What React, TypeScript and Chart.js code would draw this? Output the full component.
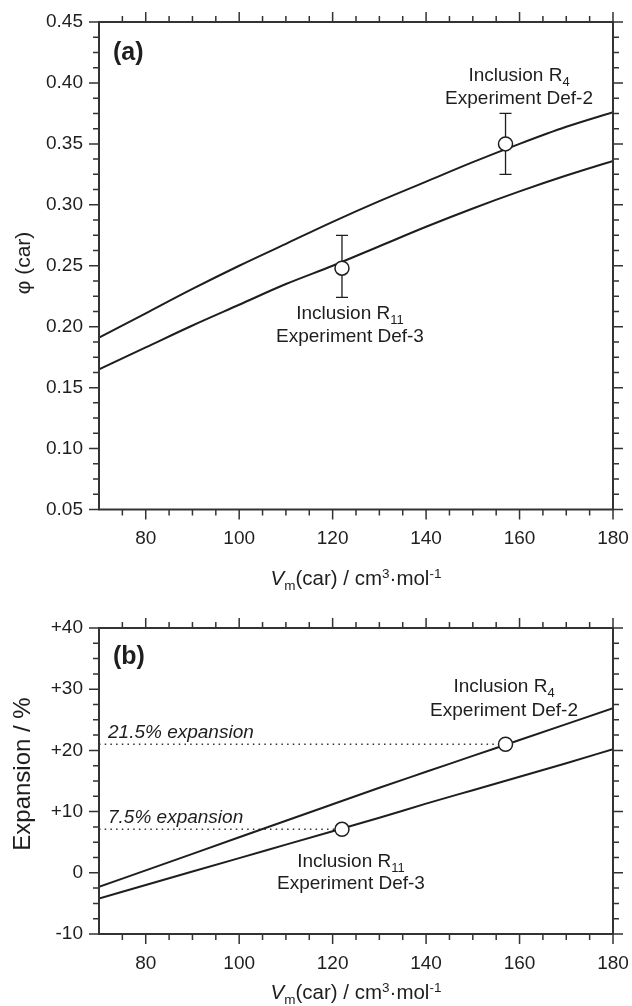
import React, { useEffect, useRef } from "react";
import { Chart, registerables } from "chart.js";

Chart.register(...registerables);

// ---------------- data ----------------
const V_CAR = [70, 80, 90, 100, 110, 120, 130, 140, 150, 160, 170, 180];
const PHI_UPPER = [0.191, 0.211, 0.231, 0.25, 0.268, 0.286, 0.303, 0.319, 0.335, 0.35, 0.364, 0.376];
const PHI_LOWER = [0.165, 0.183, 0.201, 0.218, 0.235, 0.25, 0.266, 0.282, 0.297, 0.311, 0.324, 0.336];
const EXP_UPPER = [-2.3, 0.4, 3.1, 5.8, 8.5, 11.2, 13.9, 16.5, 19.1, 21.7, 24.3, 26.9];
const EXP_LOWER = [-4.2, -2.0, 0.2, 2.4, 4.6, 6.8, 9.0, 11.3, 13.5, 15.7, 17.9, 20.2];

const INCL_NAME = ["Inclusion R", "Inclusion R"];
const INCL_SUB = ["4", "11"];
const INCL_EXPERIMENT = ["Experiment Def-2", "Experiment Def-3"];
const INCL_V = [157, 122];
const INCL_PHI = [0.35, 0.248];
const INCL_PHI_LOW = [0.325, 0.224];
const INCL_PHI_HIGH = [0.375, 0.275];
const INCL_EXP = [21.0, 7.1];
const EXP_LABELS = ["21.5% expansion", "7.5% expansion"];

const X_MIN = 70;
const X_MAX = 180;
const X_MAJOR = [80, 100, 120, 140, 160, 180];
const X_MINOR = [75, 85, 90, 95, 105, 110, 115, 125, 130, 135, 145, 150, 155, 165, 170, 175];
const PHI_MAJOR = [0.05, 0.1, 0.15, 0.2, 0.25, 0.3, 0.35, 0.4, 0.45];
const PHI_MINOR = [
  0.0625, 0.075, 0.0875, 0.1125, 0.125, 0.1375, 0.1625, 0.175, 0.1875, 0.2125, 0.225, 0.2375,
  0.2625, 0.275, 0.2875, 0.3125, 0.325, 0.3375, 0.3625, 0.375, 0.3875, 0.4125, 0.425, 0.4375,
];
const EXP_MAJOR = [-10, 0, 10, 20, 30, 40];
const EXP_MINOR = [-7.5, -5, -2.5, 2.5, 5, 7.5, 12.5, 15, 17.5, 22.5, 25, 27.5, 32.5, 35, 37.5];

// ---------------- style ----------------
const FONT = "'Liberation Sans', Arial, Helvetica, sans-serif";
const INK = "#1e1e1e";
const AXIS = "#333333";
const W = 632;

type Seg = { t: string; size: number; style?: string; weight?: string; dy?: number };

function fontStr(s: Seg) {
  return `${s.style || "normal"} ${s.weight || "normal"} ${s.size}px ${FONT}`;
}

function drawRich(ctx: CanvasRenderingContext2D, segs: Seg[], x: number, baseY: number, align: "center" | "left") {
  const widths = segs.map((s) => {
    ctx.font = fontStr(s);
    return ctx.measureText(s.t).width;
  });
  const total = widths.reduce((a, b) => a + b, 0);
  let cx = align === "center" ? x - total / 2 : x;
  ctx.textAlign = "left";
  ctx.textBaseline = "alphabetic";
  segs.forEach((s, i) => {
    ctx.font = fontStr(s);
    ctx.fillText(s.t, cx, baseY + (s.dy || 0));
    cx += widths[i];
  });
}

type Panel = {
  height: number;
  padTop: number;
  xAxisHeight: number;
  letter: string;
  letterBase: number;
  yMin: number;
  yMax: number;
  yMajor: number[];
  yMinor: number[];
  yFormat: (v: number) => string;
  upper: number[];
  lower: number[];
  pointY: number[];
  errLow?: number[];
  errHigh?: number[];
  dotted: boolean;
  yTitle: string;
  yTitleSize: number;
  yTitleX: number;
  yTitleY: number;
  xTitleBase: number;
  labelOffsets: { dx: number; dy1: number; dy2: number }[];
};

const PANEL_A: Panel = {
  height: 600,
  padTop: 22,
  xAxisHeight: 90.5,
  letter: "(a)",
  letterBase: 60,
  yMin: 0.05,
  yMax: 0.45,
  yMajor: PHI_MAJOR,
  yMinor: PHI_MINOR,
  yFormat: (v) => v.toFixed(2),
  upper: PHI_UPPER,
  lower: PHI_LOWER,
  pointY: INCL_PHI,
  errLow: INCL_PHI_LOW,
  errHigh: INCL_PHI_HIGH,
  dotted: false,
  yTitle: "φ (car)",
  yTitleSize: 21,
  yTitleX: 30,
  yTitleY: 263,
  xTitleBase: 585,
  labelOffsets: [
    { dx: 13.5, dy1: -62.4, dy2: -39.7 },
    { dx: 8, dy1: 51.3, dy2: 74.3 },
  ],
};

const PANEL_B: Panel = {
  height: 406,
  padTop: 28,
  xAxisHeight: 72,
  letter: "(b)",
  letterBase: 64,
  yMin: -10,
  yMax: 40,
  yMajor: EXP_MAJOR,
  yMinor: EXP_MINOR,
  yFormat: (v) => (v > 0 ? "+" + v : String(v)),
  upper: EXP_UPPER,
  lower: EXP_LOWER,
  pointY: INCL_EXP,
  dotted: true,
  yTitle: "Expansion / %",
  yTitleSize: 24,
  yTitleX: 30,
  yTitleY: 174,
  xTitleBase: 399,
  labelOffsets: [
    { dx: -1.5, dy1: -51.8, dy2: -28.5 },
    { dx: 9, dy1: 37.2, dy2: 59.2 },
  ],
};

function makeChart(canvas: HTMLCanvasElement, p: Panel) {
  const curve = (vals: number[]) => V_CAR.map((x, i) => ({ x, y: vals[i] }));
  const datasets: any[] = [
    {
      data: INCL_V.map((x, i) => ({ x, y: p.pointY[i] })),
      showLine: false,
      pointRadius: 7,
      pointBackgroundColor: "#ffffff",
      pointBorderColor: INK,
      pointBorderWidth: 1.5,
    },
    {
      data: curve(p.upper),
      showLine: true,
      borderColor: INK,
      borderWidth: 2,
      pointRadius: 0,
      cubicInterpolationMode: "monotone",
    },
    {
      data: curve(p.lower),
      showLine: true,
      borderColor: INK,
      borderWidth: 2,
      pointRadius: 0,
      cubicInterpolationMode: "monotone",
    },
  ];
  if (p.dotted) {
    INCL_V.forEach((v, i) => {
      datasets.push({
        data: [
          { x: X_MIN, y: p.pointY[i] },
          { x: v, y: p.pointY[i] },
        ],
        showLine: true,
        borderColor: AXIS,
        borderWidth: 1.5,
        borderDash: [1.5, 4.2],
        pointRadius: 0,
      });
    });
  }

  const errorBars = {
    id: "errorBars",
    beforeDatasetsDraw(chart: any) {
      if (!p.errLow || !p.errHigh) return;
      const { ctx, scales } = chart;
      ctx.save();
      ctx.strokeStyle = INK;
      ctx.lineWidth = 1.3;
      INCL_V.forEach((v, i) => {
        const px = scales.x.getPixelForValue(v);
        const lo = scales.y.getPixelForValue(p.errLow![i]);
        const hi = scales.y.getPixelForValue(p.errHigh![i]);
        ctx.beginPath();
        ctx.moveTo(px, lo);
        ctx.lineTo(px, hi);
        ctx.moveTo(px - 6, lo);
        ctx.lineTo(px + 6, lo);
        ctx.moveTo(px - 6, hi);
        ctx.lineTo(px + 6, hi);
        ctx.stroke();
      });
      ctx.restore();
    },
  };

  const frame = {
    id: "frame",
    afterDatasetsDraw(chart: any) {
      const { ctx, chartArea: a, scales } = chart;
      const MAJ = 10;
      const MIN = 6;
      ctx.save();
      ctx.strokeStyle = AXIS;
      ctx.lineWidth = 1.5;
      ctx.beginPath();
      const xt = (vals: number[], len: number) =>
        vals.forEach((v) => {
          const px = scales.x.getPixelForValue(v);
          ctx.moveTo(px, a.bottom);
          ctx.lineTo(px, a.bottom + len);
          ctx.moveTo(px, a.top);
          ctx.lineTo(px, a.top - len);
        });
      const yt = (vals: number[], len: number) =>
        vals.forEach((v) => {
          const py = scales.y.getPixelForValue(v);
          ctx.moveTo(a.left, py);
          ctx.lineTo(a.left - len, py);
          ctx.moveTo(a.right, py);
          ctx.lineTo(a.right + len, py);
        });
      xt(X_MAJOR, MAJ);
      xt(X_MINOR, MIN);
      yt(p.yMajor, MAJ);
      yt(p.yMinor, MIN);
      ctx.stroke();
      ctx.lineWidth = 2;
      ctx.strokeRect(a.left, a.top, a.right - a.left, a.bottom - a.top);
      ctx.restore();
    },
  };

  const texts = {
    id: "texts",
    afterDraw(chart: any) {
      const { ctx, chartArea: a, scales } = chart;
      ctx.save();
      ctx.fillStyle = INK;
      // panel letter
      drawRich(ctx, [{ t: p.letter, size: 25, weight: "bold" }], a.left + 14, p.letterBase, "left");
      // inclusion labels
      INCL_V.forEach((v, i) => {
        const px = scales.x.getPixelForValue(v);
        const py = scales.y.getPixelForValue(p.pointY[i]);
        const o = p.labelOffsets[i];
        drawRich(
          ctx,
          [
            { t: INCL_NAME[i], size: 19 },
            { t: INCL_SUB[i], size: 13, dy: 5 },
          ],
          px + o.dx,
          py + o.dy1,
          "center"
        );
        drawRich(ctx, [{ t: INCL_EXPERIMENT[i], size: 19 }], px + o.dx, py + o.dy2, "center");
        if (p.dotted) {
          drawRich(ctx, [{ t: EXP_LABELS[i], size: 19, style: "italic" }], a.left + 9, py - 6, "left");
        }
      });
      // x title
      drawRich(
        ctx,
        [
          { t: "V", size: 20.5, style: "italic" },
          { t: "m", size: 13.5, dy: 5 },
          { t: "(car) / cm", size: 20.5 },
          { t: "3", size: 13.5, dy: -7 },
          { t: "·mol", size: 20.5 },
          { t: "-1", size: 13.5, dy: -7 },
        ],
        (a.left + a.right) / 2,
        p.xTitleBase,
        "center"
      );
      // y title
      ctx.translate(p.yTitleX, p.yTitleY);
      ctx.rotate(-Math.PI / 2);
      ctx.font = `normal ${p.yTitleSize}px ${FONT}`;
      ctx.textAlign = "center";
      ctx.textBaseline = "alphabetic";
      ctx.fillText(p.yTitle, 0, 0);
      ctx.restore();
    },
  };

  return new Chart(canvas, {
    type: "scatter",
    data: { datasets },
    options: {
      animation: false,
      responsive: false,
      devicePixelRatio: 1,
      events: [],
      layout: { padding: { top: p.padTop, right: 19, left: 0, bottom: 0 } },
      plugins: { legend: { display: false }, tooltip: { enabled: false } },
      scales: {
        x: {
          type: "linear",
          min: X_MIN,
          max: X_MAX,
          grid: { display: false, drawTicks: false },
          border: { display: false },
          afterBuildTicks: (s: any) => {
            s.ticks = X_MAJOR.map((value) => ({ value }));
          },
          afterFit: (s: any) => {
            s.height = p.xAxisHeight;
            s.paddingLeft = 0;
            s.paddingRight = 0;
          },
          ticks: {
            padding: 18,
            color: INK,
            font: { family: FONT, size: 19 },
            maxRotation: 0,
            autoSkip: false,
            callback: (v: any) => String(v),
          },
        },
        y: {
          type: "linear",
          min: p.yMin,
          max: p.yMax,
          grid: { display: false, drawTicks: false },
          border: { display: false },
          afterBuildTicks: (s: any) => {
            s.ticks = p.yMajor.map((value) => ({ value }));
          },
          afterFit: (s: any) => {
            s.width = 99;
            s.paddingTop = 0;
            s.paddingBottom = 0;
          },
          ticks: {
            padding: 16,
            color: INK,
            font: { family: FONT, size: 19 },
            autoSkip: false,
            callback: (v: any) => p.yFormat(Number(v)),
          },
        },
      },
    },
    plugins: [errorBars, frame, texts],
  } as any);
}

export default function App() {
  const refA = useRef<HTMLCanvasElement | null>(null);
  const refB = useRef<HTMLCanvasElement | null>(null);

  useEffect(() => {
    const a = makeChart(refA.current!, PANEL_A);
    const b = makeChart(refB.current!, PANEL_B);
    return () => {
      a.destroy();
      b.destroy();
    };
  }, []);

  return (
    <div style={{ position: "absolute", left: 0, top: 0, width: W, height: 1006, background: "#fff" }}>
      <canvas
        ref={refA}
        width={W}
        height={PANEL_A.height}
        style={{ position: "absolute", left: 0, top: 0, width: W, height: PANEL_A.height }}
      />
      <canvas
        ref={refB}
        width={W}
        height={PANEL_B.height}
        style={{ position: "absolute", left: 0, top: PANEL_A.height, width: W, height: PANEL_B.height }}
      />
    </div>
  );
}
